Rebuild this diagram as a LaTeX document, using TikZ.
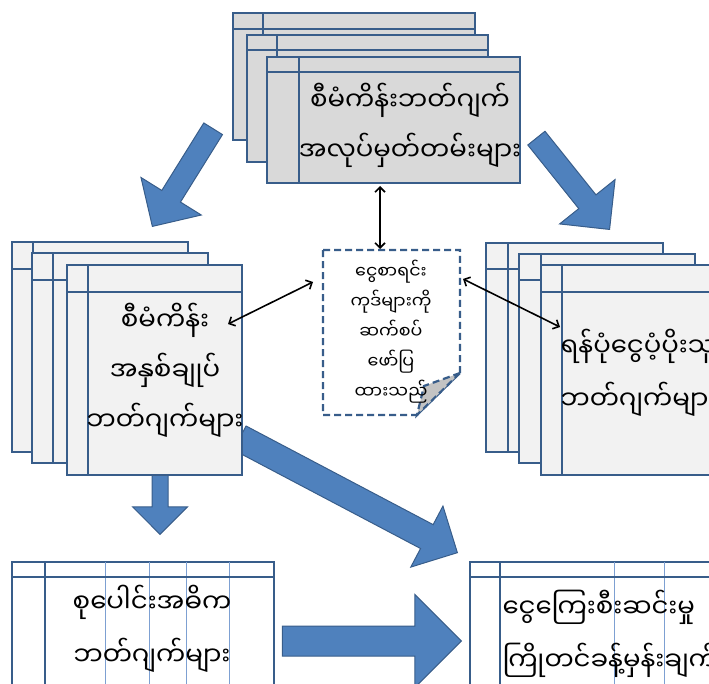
\documentclass[tikz,border=0pt]{standalone}
\usepackage{fontspec}
\newfontfamily\mya[Script=Myanmar]{Noto Sans Myanmar UI}
\usetikzlibrary{shapes.arrows, arrows.meta}

\definecolor{rand}{RGB}{56,93,138}
\definecolor{pfeil}{RGB}{79,129,189}
\definecolor{grauA}{RGB}{217,217,217}
\definecolor{grauB}{RGB}{242,242,242}
\definecolor{gitter}{RGB}{125,160,210}

\tikzset{
  blatt/.style={draw=rand, line width=2.2pt},
  duenn/.style={draw=gitter, line width=1pt},
  pfeilform/.style={single arrow, draw=rand, fill=pfeil, line width=1pt, inner xsep=0pt, text height=0pt, text depth=0pt, single arrow head indent=0pt, anchor=tip},
  verbindung/.style={{Straight Barb[length=5pt,width=10pt]}-{Straight Barb[length=5pt,width=10pt]}, line width=1.6pt},
  doku/.style={draw=rand, line width=2.2pt, dash pattern=on 7pt off 4pt},
  schrift/.style={align=center, font=\mya\fontsize{26}{50}\selectfont},
}

\begin{document}
\begin{tikzpicture}[x=1pt, y=-1pt]
    \clip (0,0) rectangle (709,684);

    % Blockpfeile
    \node (pf1) [pfeilform, inner ysep=10.5pt, minimum height=115pt, minimum width=70pt, single arrow head extend=24.5pt, rotate=238.1] at (152,227) {};
    \node (pf2) [pfeilform, inner ysep=10.5pt, minimum height=117pt, minimum width=70pt, single arrow head extend=24.5pt, rotate=-51.3] at (610,230) {};
    \node (pf3) [pfeilform, inner ysep=7.5pt, minimum height=63pt, minimum width=54pt, single arrow head extend=19.5pt, rotate=-90] at (160,535) {};
    \node (pf4) [pfeilform, inner ysep=13pt, minimum height=246pt, minimum width=68pt, single arrow head extend=21pt, rotate=-27.8] at (458,553) {};
    \node (pf5) [pfeilform, inner ysep=14.5pt, minimum height=179pt, minimum width=92pt, single arrow head extend=31.5pt] at (462,641) {};

    % obere Mappe
    \foreach \xa/\ya/\xb/\yb/\kz/\vs in {233/13/475/140/29/263, 247/35/488/162/50/277, 267/57/520/183/72/299}{
      \filldraw[blatt, fill=grauA] (\xa,\ya) rectangle (\xb,\yb);
      \draw[blatt] (\xa,\kz) -- (\xb,\kz) (\vs,\ya) -- (\vs,\yb);
    }

    % linke Mappe
    \foreach \xa/\ya/\xb/\yb/\kz/\vs in {12/242/188/452/269/33, 32/253/208/463/280/53, 67/265/242/475/292/88}{
      \filldraw[blatt, fill=grauB] (\xa,\ya) rectangle (\xb,\yb);
      \draw[blatt] (\xa,\kz) -- (\xb,\kz) (\vs,\ya) -- (\vs,\yb);
    }

    % rechte Mappe
    \foreach \xa/\ya/\xb/\yb/\kz/\vs in {486/243/663/452/269/508, 519/254/695/463/280/541, 541/265/730/475/292/562}{
      \filldraw[blatt, fill=grauB] (\xa,\ya) rectangle (\xb,\yb);
      \draw[blatt] (\xa,\kz) -- (\xb,\kz) (\vs,\ya) -- (\vs,\yb);
    }

    % untere Tabellen
    \filldraw[blatt, fill=white] (12,562) rectangle (274,700);
    \foreach \vs in {105,149,186,229}{
      \draw[duenn] (\vs,562) -- (\vs,700);
    }
    \draw[blatt] (12,577) -- (274,577) (45,562) -- (45,700);

    \filldraw[blatt, fill=white] (470,562) rectangle (730,700);
    \foreach \vs in {614,664}{
      \draw[duenn] (\vs,562) -- (\vs,700);
    }
    \draw[blatt] (470,577) -- (730,577) (500,562) -- (500,700);

    % Dokument in der Mitte
    \filldraw[doku, fill=white] (323,250) -- (460,250) -- (460,373) -- (417,415) -- (323,415) -- cycle;
    \filldraw[doku, fill=grauA!90!black] (460,373) -- (424,386) -- (417,415) -- cycle;

    % Texte
    \node (tOben) [schrift] at (410,125) {စီမံကိန်းဘတ်ဂျက်\\အလုပ်မှတ်တမ်းများ};
    \node (tLinks) [schrift] at (165,370) {စီမံကိန်း\\အနှစ်ချုပ်\\ဘတ်ဂျက်များ};
    \node (tRechts) [schrift, anchor=west, align=left, font=\mya\fontsize{26}{53}\selectfont] at (557,373) {ရန်ပုံငွေပံ့ပိုးသူ\\ဘတ်ဂျက်များ};
    \node (tDoku) [align=center, font=\mya\fontsize{17.5}{30}\selectfont] at (391,332) {ငွေစာရင်း\\ကုဒ်များကို\\ဆက်စပ်\\ဖော်ပြ\\ထားသည်};
    \node (tUntenL) [schrift, font=\mya\fontsize{26}{53}\selectfont] at (152,629) {စုပေါင်းအဓိက\\ဘတ်ဂျက်များ};
    \node (tUntenR) [schrift, anchor=west, align=left, font=\mya\fontsize{26}{53}\selectfont] at (499,634) {ငွေကြေးစီးဆင်းမှု\\ကြိုတင်ခန့်မှန်းချက်};

    % Verbindungen
    \coordinate (kOben) at (380,186);
    \coordinate (kDokO) at (380,249);
    \coordinate (kLinks) at (228,324);
    \coordinate (kDokL) at (313,282);
    \coordinate (kRechts) at (560,327);
    \coordinate (kDokR) at (463,279);
    \draw[verbindung] (kOben) -- (kDokO);
    \draw[verbindung] (kDokL) -- (kLinks);
    \draw[verbindung] (kDokR) -- (kRechts);
\end{tikzpicture}
\end{document}
